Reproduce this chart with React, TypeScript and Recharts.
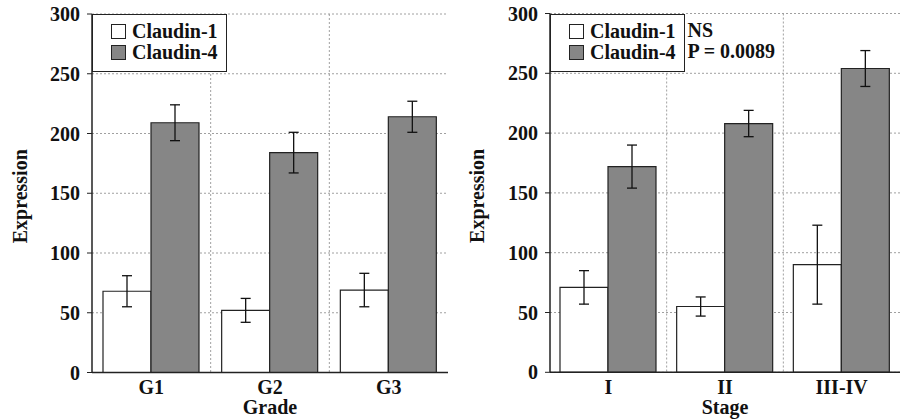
import React from 'react';
import {
  BarChart, Bar, XAxis, YAxis, CartesianGrid, ErrorBar, Label
} from 'recharts';

const grades = ['G1', 'G2', 'G3'];
const gradeClaudin1 = [68, 52, 69];
const gradeClaudin1Err = [13, 10, 14];
const gradeClaudin4 = [209, 184, 214];
const gradeClaudin4Err = [15, 17, 13];

const stages = ['I', 'II', 'III-IV'];
const stageClaudin1 = [71, 55, 90];
const stageClaudin1Err = [14, 8, 33];
const stageClaudin4 = [172, 208, 254];
const stageClaudin4Err = [18, 11, 15];

const yTicks = [0, 50, 100, 150, 200, 250, 300];
const seriesNames = ['Claudin-1', 'Claudin-4'];
const stageNotes = ['NS', 'P = 0.0089'];

const FONT = '"Liberation Serif", "DejaVu Serif", serif';
const GRAY = '#868686';
const INK = '#111';

const build = (cats: string[], a: number[], ae: number[], b: number[], be: number[]) =>
  cats.map((name, i) => ({ name, c1: a[i], c1e: ae[i], c4: b[i], c4e: be[i] }));

const gradeData = build(grades, gradeClaudin1, gradeClaudin1Err, gradeClaudin4, gradeClaudin4Err);
const stageData = build(stages, stageClaudin1, stageClaudin1Err, stageClaudin4, stageClaudin4Err);

const LegendBox = ({ notes, left, top }: { notes?: string[]; left: number; top: number }) => (
  <div style={{
    position: 'absolute', left, top, display: 'flex', color: INK,
    fontFamily: FONT, fontWeight: 'bold', fontSize: 20, lineHeight: '21px'
  }}>
    <div style={{ border: '1.5px solid #222', background: '#fff', padding: '6px 8px 8px 18px' }}>
      {seriesNames.map((t, i) => (
        <div key={t} style={{ display: 'flex', alignItems: 'center' }}>
          <span style={{
            width: 13, height: 13, border: '1px solid #222', background: i === 0 ? '#fff' : GRAY,
            marginRight: 6, display: 'inline-block'
          }} />
          {t}
        </div>
      ))}
    </div>
    {notes && (
      <div style={{ padding: '6px 0 0 3px' }}>
        {notes.map((n) => <div key={n}>{n}</div>)}
      </div>
    )}
  </div>
);

interface PanelProps {
  data: any[];
  width: number;
  yWidth: number;
  marginRight: number;
  top: number;
  xHeight: number;
  xLabel: string;
  labelOffset: number;
  notes?: string[];
}

const Panel: React.FC<PanelProps> = ({ data, width, yWidth, marginRight, top, xHeight, xLabel, labelOffset, notes }) => {
  const tick = { fill: INK, fontFamily: FONT, fontWeight: 'bold', fontSize: 20 };
  return (
    <div style={{ position: 'relative', width, height: 420 }}>
      <BarChart
        width={width}
        height={420}
        data={data}
        margin={{ top, right: marginRight, bottom: 0, left: 0 }}
        barGap={0}
        barSize={48}
      >
        <CartesianGrid
          stroke="#a0a0a0"
          strokeDasharray="2 2"
          verticalCoordinatesGenerator={({ offset }: any) =>
            [1, 2].map((k) => offset.left + (offset.width * k) / 3)
          }
        />
        <XAxis
          dataKey="name"
          tick={tick}
          tickLine={false}
          axisLine={{ stroke: '#222', strokeWidth: 1.5 }}
          height={xHeight}
          tickMargin={1}
        >
          <Label value={xLabel} position="insideBottom" offset={6} fill={INK}
            style={{ ...tick }} />
        </XAxis>
        <XAxis xAxisId="top" orientation="top" dataKey="name" height={0} tick={false} tickLine={false}
          axisLine={{ stroke: '#222', strokeWidth: 1.5 }} />
        <YAxis
          domain={[0, 300]}
          ticks={yTicks}
          tick={tick}
          tickLine={{ stroke: '#222' }}
          tickSize={5}
          axisLine={{ stroke: '#222', strokeWidth: 1.5 }}
          width={yWidth}
          tickMargin={7}
        >
          <Label
            value="Expression"
            angle={-90}
            position="insideLeft"
            offset={labelOffset}
            dy={3}
            fill={INK}
            style={{ ...tick, textAnchor: 'middle' }}
          />
        </YAxis>
        <YAxis yAxisId="right" orientation="right" domain={[0, 300]} width={0} tick={false} tickLine={false}
          axisLine={{ stroke: '#222', strokeWidth: 1.5 }} />
        <Bar dataKey="c1" fill="#fff" stroke="#222" strokeWidth={1.2} isAnimationActive={false}>
          <ErrorBar dataKey="c1e" width={5} stroke={INK} strokeWidth={1.3} />
        </Bar>
        <Bar dataKey="c4" fill={GRAY} stroke="#222" strokeWidth={1.2} isAnimationActive={false}>
          <ErrorBar dataKey="c4e" width={5} stroke={INK} strokeWidth={1.3} />
        </Bar>
      </BarChart>
      <LegendBox notes={notes} left={yWidth} top={top} />
    </div>
  );
};

export default function App() {
  return (
    <div style={{ position: 'absolute', left: 0, top: 0, width: 903, height: 420, display: 'flex', background: '#fff' }}>
      <Panel data={gradeData} width={450} yWidth={92} marginRight={2} top={14} xHeight={47.5}
        xLabel="Grade" labelOffset={20} />
      <Panel data={stageData} width={453} yWidth={100} marginRight={3} top={13.5} xHeight={47.7}
        xLabel="Stage" labelOffset={27} notes={stageNotes} />
    </div>
  );
}
